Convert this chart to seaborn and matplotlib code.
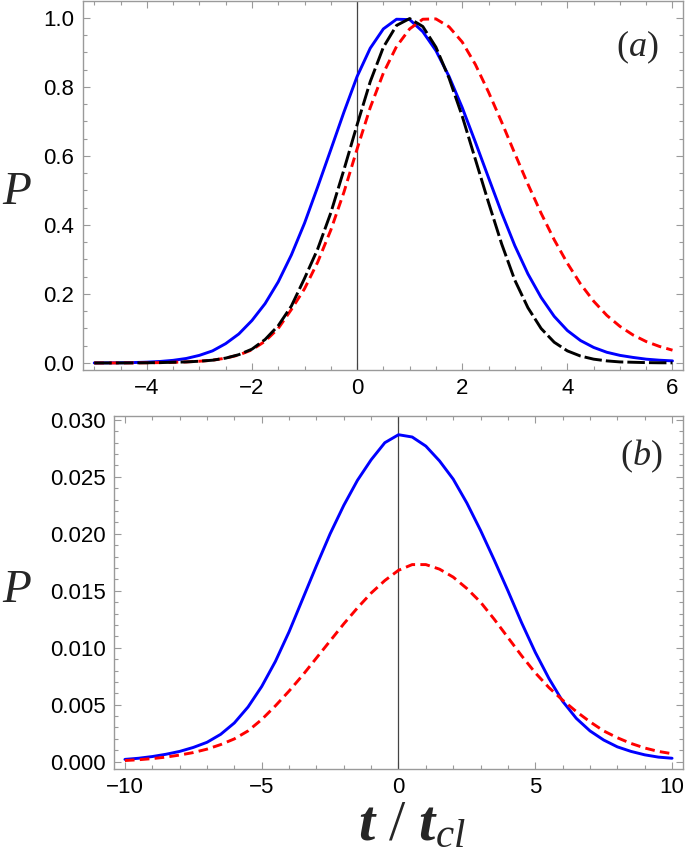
import matplotlib
matplotlib.use("Agg")
import matplotlib.pyplot as plt
from matplotlib.ticker import MultipleLocator, FormatStrFormatter
import seaborn as sns

# panel (a): t/t_cl from -5 to 6 in steps of 0.25
t_a = [-5.0, -4.75, -4.5, -4.25, -4.0, -3.75, -3.5, -3.25, -3.0, -2.75, -2.5, -2.25,
       -2.0, -1.75, -1.5, -1.25, -1.0, -0.75, -0.5, -0.25, 0.0, 0.25, 0.5, 0.75,
       1.0, 1.25, 1.5, 1.75, 2.0, 2.25, 2.5, 2.75, 3.0, 3.25, 3.5, 3.75,
       4.0, 4.25, 4.5, 4.75, 5.0, 5.25, 5.5, 5.75, 6.0]
blue_a = [0.0001, 0.0003, 0.0006, 0.0012, 0.0023, 0.0043, 0.0076, 0.013, 0.022, 0.035, 0.056, 0.084,
          0.123, 0.172, 0.235, 0.313, 0.405, 0.51, 0.618, 0.727, 0.83, 0.912, 0.968, 0.996,
          0.995, 0.96, 0.905, 0.83, 0.74, 0.64, 0.537, 0.435, 0.34, 0.258, 0.19, 0.135,
          0.094, 0.065, 0.045, 0.031, 0.022, 0.016, 0.011, 0.008, 0.006]
red_a = [0.0, 0.0, 0.0001, 0.0002, 0.0005, 0.001, 0.002, 0.003, 0.005, 0.008, 0.014, 0.023,
         0.038, 0.063, 0.10, 0.155, 0.215, 0.292, 0.385, 0.495, 0.62, 0.74, 0.84, 0.917,
         0.968, 0.996, 0.997, 0.974, 0.93, 0.865, 0.785, 0.698, 0.607, 0.518, 0.434, 0.357,
         0.289, 0.229, 0.179, 0.138, 0.106, 0.081, 0.062, 0.048, 0.037]
black_a = [0.0, 0.0, 0.0001, 0.0002, 0.0005, 0.001, 0.002, 0.003, 0.005, 0.008, 0.014, 0.024,
           0.04, 0.068, 0.108, 0.165, 0.245, 0.33, 0.435, 0.56, 0.69, 0.815, 0.915, 0.978,
           0.998, 0.975, 0.915, 0.825, 0.715, 0.59, 0.465, 0.345, 0.24, 0.16, 0.10, 0.06,
           0.035, 0.02, 0.011, 0.006, 0.003, 0.002, 0.001, 0.0005, 0.0003]

# panel (b): t/t_cl from -10 to 10 in steps of 0.5
t_b = [-10.0, -9.5, -9.0, -8.5, -8.0, -7.5, -7.0, -6.5, -6.0, -5.5, -5.0, -4.5, -4.0, -3.5,
       -3.0, -2.5, -2.0, -1.5, -1.0, -0.5, 0.0, 0.5, 1.0, 1.5, 2.0, 2.5, 3.0, 3.5,
       4.0, 4.5, 5.0, 5.5, 6.0, 6.5, 7.0, 7.5, 8.0, 8.5, 9.0, 9.5, 10.0]
blue_b = [0.0002, 0.0003, 0.00045, 0.00065, 0.0009, 0.00125, 0.0017, 0.0024, 0.0034, 0.0048,
          0.0066, 0.0088, 0.0114, 0.0143, 0.0172, 0.0200, 0.0225, 0.0247, 0.0265, 0.0280,
          0.0287, 0.0285, 0.0277, 0.0264, 0.0248, 0.0227, 0.0203, 0.0177, 0.0150, 0.0122,
          0.0096, 0.0073, 0.0053, 0.0038, 0.0027, 0.0019, 0.0013, 0.0009, 0.0006, 0.0004, 0.0003]
red_b = [0.0001, 0.00017, 0.00027, 0.0004, 0.00058, 0.0008, 0.0011, 0.0015, 0.0020, 0.0027,
         0.0037, 0.0049, 0.0062, 0.0076, 0.0091, 0.0106, 0.0121, 0.0135, 0.0148, 0.0159,
         0.0168, 0.0173, 0.0173, 0.0169, 0.0162, 0.0152, 0.0140, 0.0125, 0.0109, 0.0093,
         0.0078, 0.0065, 0.0054, 0.0044, 0.0035, 0.0027, 0.0021, 0.0016, 0.0012, 0.0009, 0.0007]

sns.set_style("ticks")
plt.rcParams["font.family"] = ["Liberation Sans", "DejaVu Sans"]
plt.rcParams["mathtext.fontset"] = "custom"
plt.rcParams["mathtext.rm"] = "Liberation Serif"
plt.rcParams["mathtext.it"] = "Liberation Serif:italic"
plt.rcParams["mathtext.bf"] = "Liberation Serif:bold:italic"

frame_col = "#9a9a9a"
lw = 2.1

fig = plt.figure(figsize=(6.85, 8.64), dpi=100)
ax1 = fig.add_axes([0.1207, 0.5718, 0.8764, 0.4271])
ax2 = fig.add_axes([0.1664, 0.1100, 0.8307, 0.4086])

# (a)
ax1.axvline(0, color="#444444", lw=0.9, zorder=1)
sns.lineplot(x=t_a, y=blue_a, ax=ax1, color="#0000ff", linewidth=lw, errorbar=None)
sns.lineplot(x=t_a, y=red_a, ax=ax1, color="#ff0000", linewidth=lw, errorbar=None,
             linestyle=(0, (3.3, 1.8)))
sns.lineplot(x=t_a, y=black_a, ax=ax1, color="black", linewidth=lw, errorbar=None,
             linestyle=(0, (6, 1.4)))
ax1.set_xlim(-5.22, 6.2)
ax1.set_ylim(-0.0203, 1.049)
ax1.xaxis.set_major_locator(MultipleLocator(2))
ax1.xaxis.set_minor_locator(MultipleLocator(0.5))
ax1.yaxis.set_major_locator(MultipleLocator(0.2))
ax1.yaxis.set_minor_locator(MultipleLocator(0.05))
ax1.yaxis.set_major_formatter(FormatStrFormatter("%.1f"))

# (b)
ax2.axvline(0, color="#444444", lw=0.9, zorder=1)
sns.lineplot(x=t_b, y=blue_b, ax=ax2, color="#0000ff", linewidth=lw, errorbar=None)
sns.lineplot(x=t_b, y=red_b, ax=ax2, color="#ff0000", linewidth=lw, errorbar=None,
             linestyle=(0, (3.3, 1.8)))
ax2.set_xlim(-10.4, 10.4)
ax2.set_ylim(-0.00064, 0.03035)
ax2.xaxis.set_major_locator(MultipleLocator(5))
ax2.xaxis.set_minor_locator(MultipleLocator(1))
ax2.yaxis.set_major_locator(MultipleLocator(0.005))
ax2.yaxis.set_minor_locator(MultipleLocator(0.001))
ax2.yaxis.set_major_formatter(FormatStrFormatter("%.3f"))

for ax in (ax1, ax2):
    ax.set_xlabel("")
    ax.set_ylabel("")
    for sp in ax.spines.values():
        sp.set_color(frame_col)
        sp.set_linewidth(1.0)
    ax.tick_params(which="both", direction="in", top=True, right=True,
                   color=frame_col, width=0.8, labelsize=16, labelcolor="black")
    ax.tick_params(which="major", length=5, pad=6)
    ax.tick_params(which="minor", length=2.8)

# labels
fig.text(17 / 685, 1 - 193 / 864, "P", family="Liberation Serif", style="italic",
         fontsize=34, ha="center", va="center")
fig.text(17 / 685, 1 - 591 / 864, "P", family="Liberation Serif", style="italic",
         fontsize=34, ha="center", va="center")
fig.text(637 / 685, 1 - 47 / 864, r"$(a)$", fontsize=26, ha="center", va="center")
fig.text(641 / 685, 1 - 456 / 864, r"$(b)$", fontsize=26, ha="center", va="center")
fig.text(412 / 685, 1 - 825 / 864, r"$\mathbf{t}\ /\ \mathbf{t}_{cl}$", fontsize=42,
         ha="center", va="center")

fig.savefig("out.png", dpi=100)
